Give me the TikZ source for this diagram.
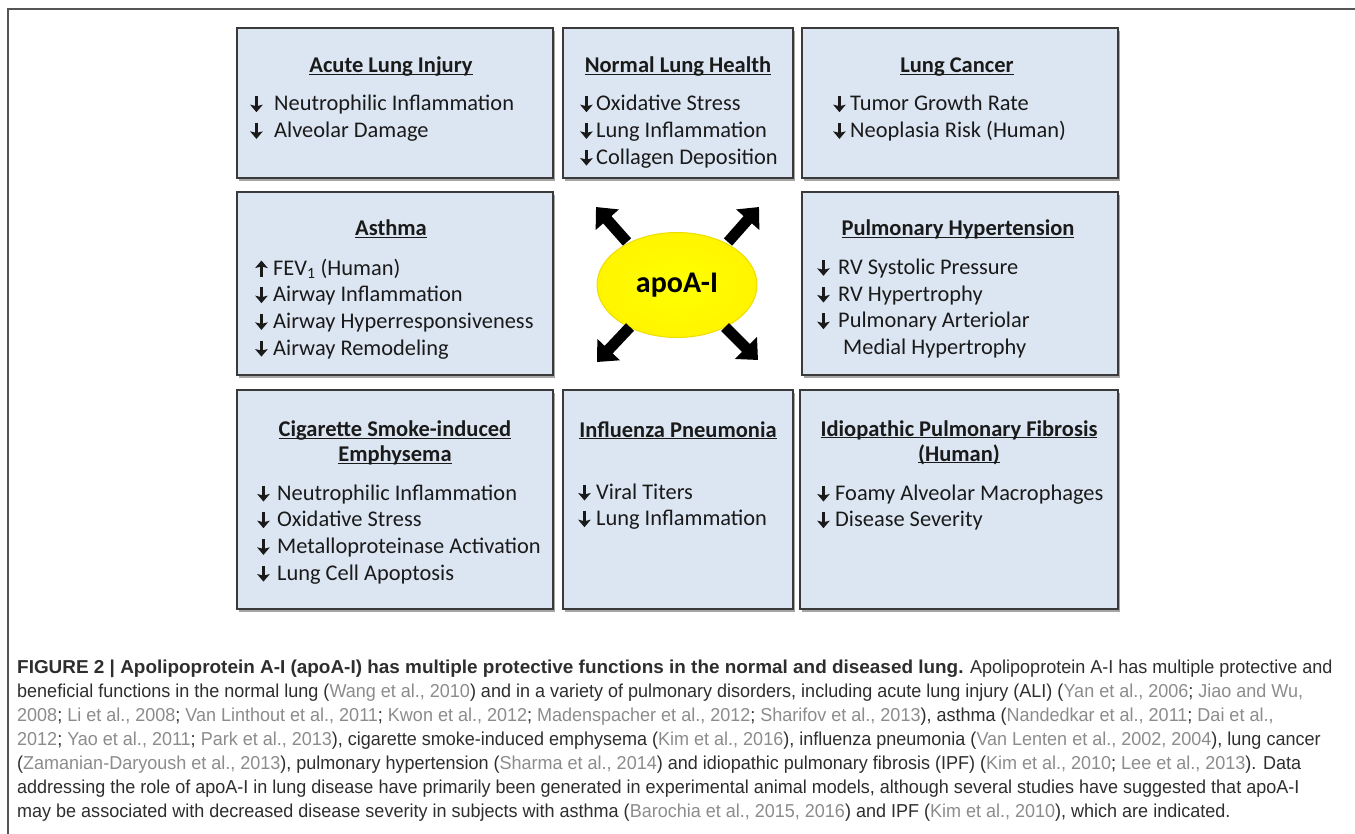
\documentclass[tikz,border=0pt]{standalone}
\usepackage{fontspec}
\setmainfont{Carlito}
\newfontfamily\capfont[FakeStretch=0.963]{Liberation Sans}
\newfontfamily\capboldfont[FakeStretch=1.012]{Liberation Sans}
\usetikzlibrary{arrows.meta,shadows,shapes.geometric}

\definecolor{boxfill}{HTML}{DCE6F2}
\definecolor{boxline}{HTML}{3A3A3A}
\definecolor{captext}{HTML}{2E2E2E}
\definecolor{citegray}{HTML}{8C8C8C}
\definecolor{frameline}{HTML}{555555}
\definecolor{bodytext}{HTML}{1A1A1A}
\definecolor{apoyellow}{HTML}{FFFF00}
\definecolor{apoedge}{HTML}{EEDD00}

\newsavebox\ulbox
\newcommand\myul[1]{\sbox\ulbox{#1}\rlap{\rule[-2.4pt]{\wd\ulbox}{1.3pt}}\usebox\ulbox}
\newcommand\arrdn{\tikz[baseline=0pt,x=1pt,y=1pt]\draw[bodytext,line width=3pt,-{Stealth[length=7.5pt,width=12.5pt,inset=1.5pt]}] (0,14.5) -- (0,-1.5);}
\newcommand\arrup{\tikz[baseline=0pt,x=1pt,y=1pt]\draw[bodytext,line width=3pt,-{Stealth[length=7.5pt,width=12.5pt,inset=1.5pt]}] (0,-1.5) -- (0,14.5);}
\newcommand\dnarr[1]{\makebox[#1][l]{\arrdn}}
\newcommand\uparr[1]{\makebox[#1][l]{\arrup}}
\newcommand\cit[1]{\textcolor{citegray}{#1}}

\tikzset{
  panel/.style={rectangle, draw=boxline, line width=1.6pt, fill=boxfill,
    drop shadow={shadow xshift=2pt, shadow yshift=-2.5pt, opacity=0.35, fill=black}},
  paneltitle/.style={font=\fontsize{22.5}{25}\selectfont\bfseries, text=bodytext,
    anchor=base, align=center, inner sep=0pt},
  items/.style={font=\fontsize{22.4}{26.7}\selectfont, text=bodytext,
    anchor=base west, align=left, inner sep=0pt},
  bigarrow/.style={line width=11pt, -{Triangle[width=30pt,length=17pt]}, black},
  capline/.style={anchor=base west, inner sep=0pt,
    font=\capfont\fontsize{18.7}{24}\selectfont, text=captext},
}

\begin{document}
\begin{tikzpicture}[x=1pt,y=-1pt]
\useasboundingbox (0,0) rectangle (1355,833);
\fill[white] (0,0) rectangle (1355,833);
\draw[frameline, line width=2pt] (1360,9) -- (8,9) -- (8,840);

% panels
\node[panel, minimum width=316pt, minimum height=150pt] (ali) at (395,103) {};
\node[panel, minimum width=230pt, minimum height=150pt] (nlh) at (678,103) {};
\node[panel, minimum width=316pt, minimum height=150pt] (lc) at (960,103) {};
\node[panel, minimum width=316pt, minimum height=183pt] (ast) at (395,283.5) {};
\node[panel, minimum width=316pt, minimum height=183pt] (ph) at (960,283.5) {};
\node[panel, minimum width=316pt, minimum height=219pt] (cig) at (395,499.5) {};
\node[panel, minimum width=230pt, minimum height=219pt] (inf) at (678,499.5) {};
\node[panel, minimum width=318pt, minimum height=219pt] (ipf) at (959,499.5) {};

% titles (base anchor = baseline of the last line)
\node[paneltitle] (aliT) at (391,72.7) {\myul{Acute Lung Injury}};
\node[paneltitle] (nlhT) at (678,72.7) {\myul{Normal Lung Health}};
\node[paneltitle] (lcT) at (957,72.7) {\myul{Lung Cancer}};
\node[paneltitle] (astT) at (391,235.7) {\myul{Asthma}};
\node[paneltitle] (phT) at (958,235.7) {\myul{Pulmonary Hypertension}};
\node[paneltitle] (cigT) at (395,461.7) {\myul{Cigarette Smoke-induced}\\\myul{Emphysema}};
\node[paneltitle] (infT) at (678,437) {\myul{Influenza Pneumonia}};
\node[paneltitle] (ipfT) at (959,461) {\myul{Idiopathic Pulmonary Fibrosis}\\\myul{(Human)}};

% items (base west = baseline of the last line)
\node[items] (aliI) at (250,137.4) {\dnarr{24pt}Neutrophilic Inflammation\\\dnarr{24pt}Alveolar Damage};
\node[items] (nlhI) at (580,164.1) {\dnarr{16pt}Oxidative Stress\\\dnarr{16pt}Lung Inflammation\\\dnarr{16pt}Collagen Deposition};
\node[items] (lcI) at (833,137.4) {\dnarr{17pt}Tumor Growth Rate\\\dnarr{17pt}Neoplasia Risk (Human)};
\node[items] (astI) at (255,355.1) {\uparr{18pt}FEV\textsubscript{1} (Human)\\\dnarr{18pt}Airway Inflammation\\\dnarr{18pt}Airway Hyperresponsiveness\\\dnarr{18pt}Airway Remodeling};
\node[items] (phI) at (817,354.4) {\dnarr{21pt}RV Systolic Pressure\\\dnarr{21pt}RV Hypertrophy\\\dnarr{21pt}Pulmonary Arteriolar\\\hspace*{26pt}Medial Hypertrophy};
\node[items] (cigI) at (257,580.1) {\dnarr{20pt}Neutrophilic Inflammation\\\dnarr{20pt}Oxidative Stress\\\dnarr{20pt}Metalloproteinase Activation\\\dnarr{20pt}Lung Cell Apoptosis};
\node[items] (infI) at (578,525.7) {\dnarr{18pt}Viral Titers\\\dnarr{18pt}Lung Inflammation};
\node[items] (ipfI) at (817,526.7) {\dnarr{18pt}Foamy Alveolar Macrophages\\\dnarr{18pt}Disease Severity};

% central ellipse
\node[ellipse, minimum width=160pt, minimum height=105pt, draw=apoedge, line width=1pt,
  inner color=apoyellow, outer color=apoyellow!92!orange,
  font=\fontsize{30}{32}\selectfont\bfseries, text=black] (apo) at (677,285) {apoA-I};

% block arrows
\coordinate (ulT) at (627,242); \coordinate (ulH) at (596,207);
\coordinate (urT) at (728,242); \coordinate (urH) at (759,207);
\coordinate (llT) at (630,327); \coordinate (llH) at (597,362);
\coordinate (lrT) at (725,327); \coordinate (lrH) at (758,360);
\draw[bigarrow] (ulT) -- (ulH);
\draw[bigarrow] (urT) -- (urH);
\draw[bigarrow] (llT) -- (llH);
\draw[bigarrow] (lrT) -- (lrH);

% caption
\node[capline] (cap1) at (17,673) {{\capboldfont\bfseries FIGURE 2 | Apolipoprotein A-I (apoA-I) has multiple protective functions in the normal and diseased lung.} Apolipoprotein A-I has multiple protective and};
\node[capline] (cap2) at (17,697) {beneficial functions in the normal lung (\cit{Wang et al., 2010}) and in a variety of pulmonary disorders, including acute lung injury (ALI) (\cit{Yan et al., 2006}; \cit{Jiao and Wu,}};
\node[capline] (cap3) at (17,721) {\cit{2008}; \cit{Li et al., 2008}; \cit{Van Linthout et al., 2011}; \cit{Kwon et al., 2012}; \cit{Madenspacher et al., 2012}; \cit{Sharifov et al., 2013}), asthma (\cit{Nandedkar et al., 2011}; \cit{Dai et al.,}};
\node[capline] (cap4) at (17,745) {\cit{2012}; \cit{Yao et al., 2011}; \cit{Park et al., 2013}), cigarette smoke-induced emphysema (\cit{Kim et al., 2016}), influenza pneumonia (\cit{Van Lenten et al., 2002, 2004}), lung cancer};
\node[capline] (cap5) at (17,769) {(\cit{Zamanian-Daryoush et al., 2013}), pulmonary hypertension (\cit{Sharma et al., 2014}) and idiopathic pulmonary fibrosis (IPF) (\cit{Kim et al., 2010}; \cit{Lee et al., 2013}). Data};
\node[capline] (cap6) at (17,793) {addressing the role of apoA-I in lung disease have primarily been generated in experimental animal models, although several studies have suggested that apoA-I};
\node[capline] (cap7) at (17,817) {may be associated with decreased disease severity in subjects with asthma (\cit{Barochia et al., 2015, 2016}) and IPF (\cit{Kim et al., 2010}), which are indicated.};
\end{tikzpicture}
\end{document}
